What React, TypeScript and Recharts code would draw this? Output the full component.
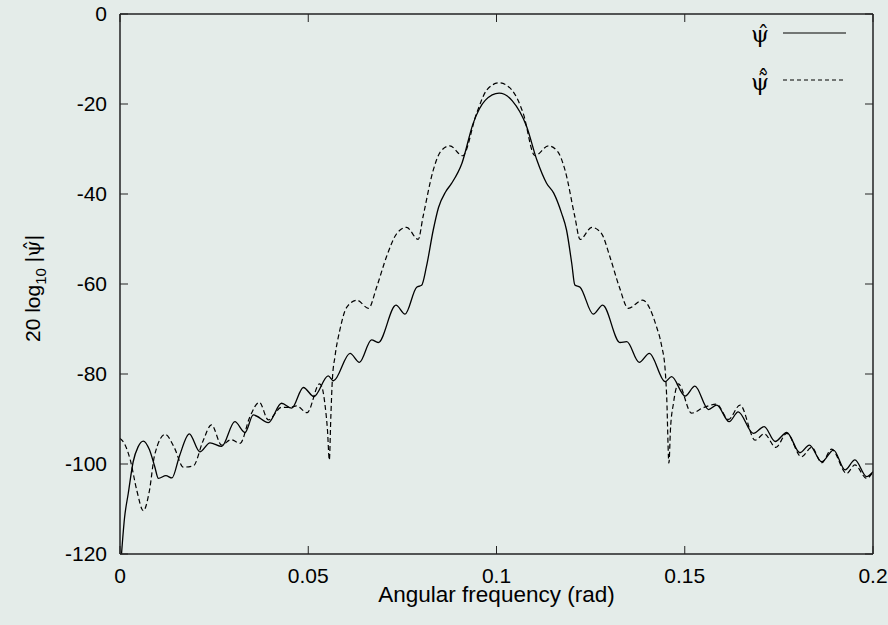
import { LineChart, Line, XAxis, YAxis, Legend, Label, ReferenceLine, CartesianGrid } from "recharts";

// angular frequency (rad) / magnitude (dB)
const freqSolid = [
  0.0004, 0.0012, 0.0022, 0.0035, 0.0048, 0.0062, 0.0078, 0.0092, 0.0102, 0.0122,
  0.0138, 0.0158, 0.0184, 0.0212, 0.0239, 0.027, 0.0305, 0.0332, 0.0354, 0.0394,
  0.0429, 0.0456, 0.0487, 0.0515, 0.0553, 0.0567, 0.0611, 0.0636, 0.0668, 0.0686,
  0.0733, 0.0757, 0.0788, 0.0801, 0.0814, 0.0832, 0.0846, 0.0865, 0.0881, 0.0908,
  0.0938, 0.097, 0.1007, 0.1042, 0.108, 0.1107, 0.1133, 0.1152, 0.1173, 0.1186,
  0.12, 0.1208, 0.1222, 0.1257, 0.1282, 0.1328, 0.1346, 0.1379, 0.1406, 0.1448,
  0.1465, 0.1501, 0.1527, 0.1563, 0.1585, 0.1618, 0.1642, 0.1682, 0.1711, 0.174,
  0.1771, 0.1806, 0.1831, 0.1864, 0.1895, 0.1926, 0.1952, 0.1983, 0.2,
];
const magSolid = [
  -120, -112, -106.5, -99.5, -96.2, -94.9, -96.8, -100.5, -103.2, -102.6,
  -103.1, -98.2, -93.3, -97.3, -95.3, -96.1, -90.6, -93, -89.1, -90.8,
  -86.5, -87.6, -83, -85, -80.4, -81.5, -75.4, -77.4, -72.4, -73,
  -64.7, -66.7, -60.7, -60.3, -56.1, -48, -43, -39.5, -37.6, -33.2,
  -24.3, -19.2, -17.6, -19.3, -25, -32.4, -37.6, -39.8, -44.3, -48,
  -55.5, -60.2, -60.7, -66.7, -64.7, -73, -72.8, -77.4, -75.4, -81.7,
  -80.6, -84.9, -82.7, -87.9, -86.9, -90.6, -88.4, -93.2, -91.7, -95,
  -93, -97.5, -95.8, -99.5, -96.9, -101.3, -99.1, -102.8, -101.7,
];

const freqDashed = [
  0, 0.0012, 0.0027, 0.0045, 0.0062, 0.0078, 0.0092, 0.012, 0.0145, 0.0168,
  0.0195, 0.022, 0.0243, 0.027, 0.0295, 0.0319, 0.0345, 0.037, 0.0394, 0.0429,
  0.0452, 0.0469, 0.0497, 0.053, 0.0536, 0.0544, 0.0551, 0.0556, 0.056, 0.0564,
  0.0571, 0.0584, 0.0602, 0.0629, 0.066, 0.0682, 0.0708, 0.0735, 0.0761, 0.0792,
  0.0805, 0.0832, 0.0852, 0.0876, 0.091, 0.0947, 0.0975, 0.1007, 0.104, 0.1071,
  0.1102, 0.1138, 0.1162, 0.1182, 0.1208, 0.1222, 0.1253, 0.1279, 0.1301, 0.1326,
  0.135, 0.1388, 0.1425, 0.1438, 0.1448, 0.1452, 0.1458, 0.1462, 0.147, 0.1483,
  0.1518, 0.1549, 0.1585, 0.1616, 0.1647, 0.1687, 0.1711, 0.1742, 0.1771, 0.181,
  0.1837, 0.1864, 0.189, 0.193, 0.1952, 0.1983, 0.2,
];
const magDashed = [
  -94.3, -95.5, -99, -106, -110.4, -106, -98, -93.4, -96.5, -100.7,
  -100.4, -95, -91.3, -95.8, -94.6, -95.4, -89.5, -86.3, -90.2, -87.4,
  -87.4, -87.1, -88.6, -82.2, -82.8, -86.5, -92.4, -99.1, -89.5, -81.3,
  -76.1, -70.2, -65.2, -63.6, -65.4, -60.6, -53.9, -48.8, -47.4, -50.1,
  -45, -34.7, -30.5, -29.3, -31.5, -22.1, -16.8, -15.3, -16.8, -22.1,
  -31.5, -29.3, -30.5, -34.7, -45, -50.1, -47.4, -48.8, -53.9, -60.6,
  -65.4, -63.6, -69.5, -73.5, -79.1, -85, -99.8, -92.4, -86.5, -82.2,
  -88.7, -87.5, -86.7, -90.1, -86.9, -94.7, -93.3, -96.3, -93.2, -98.4,
  -96.3, -99.7, -96.7, -102.1, -100.2, -103.2, -101.7,
];

const xTicks = [0, 0.05, 0.1, 0.15, 0.2];
const yTicks = [-120, -100, -80, -60, -40, -20, 0];

const solidData = freqSolid.map((x, i) => ({ x, y: magSolid[i] }));
const dashedData = freqDashed.map((x, i) => ({ x, y: magDashed[i] }));

const FONT = "'Liberation Sans', Arial, sans-serif";
const GREEK = "'DejaVu Serif', 'Liberation Serif', serif";
const tickStyle = { fontSize: 21, fill: "#000", fontFamily: FONT };
const frame = { stroke: "#222", strokeWidth: 1.5 };
const hidden = () => <g />;
// mirrored tick length along the top border, in dB (8px at 4.5px/dB)
const topTickLen = 8 / 4.5;

function PsiLegend() {
  return (
    <svg width={188} height={100} style={{ overflow: "visible" }}>
      <text x={60} y={42} textAnchor="middle" fontSize={23} fontFamily={GREEK} fill="#000">
        {"\u03C8\u0302"}
      </text>
      <line x1={83} x2={146} y1={33} y2={33} stroke="#000" strokeWidth={1.2} />
      <text x={60} y={90} textAnchor="middle" fontSize={23} fontFamily={GREEK} fill="#000">
        {"\u03C8\u0303\u0302"}
      </text>
      <line x1={83} x2={146} y1={80} y2={80} stroke="#000" strokeWidth={1.2} strokeDasharray="4 3" />
    </svg>
  );
}

export default function App() {
  return (
    <div style={{ position: "absolute", left: 0, top: 0, width: 888, height: 625, background: "#e4ece9" }}>
      <LineChart width={888} height={625} margin={{ top: 14, right: 14, left: 0, bottom: 0 }}>
        {/* top border of the plot box */}
        <CartesianGrid
          vertical={false}
          horizontalCoordinatesGenerator={(props: any) => [props.offset.top]}
          stroke="#222"
          strokeWidth={1.5}
          strokeDasharray=""
          fill="none"
        />
        <XAxis
          dataKey="x"
          type="number"
          domain={[0, 0.2]}
          allowDataOverflow
          ticks={xTicks}
          interval={0}
          tickFormatter={(v) => String(v)}
          height={71}
          tickSize={-8}
          tickMargin={22}
          tick={tickStyle}
          axisLine={frame}
          tickLine={{ stroke: "#222" }}
        >
          <Label
            content={({ viewBox }: any) => (
              <text
                x={viewBox.x + viewBox.width / 2}
                y={viewBox.y + 48}
                textAnchor="middle"
                fontSize={22.5}
                fontFamily={FONT}
                fill="#000"
              >
                Angular frequency (rad)
              </text>
            )}
          />
        </XAxis>
        <YAxis
          type="number"
          domain={[-120, 0]}
          allowDataOverflow
          ticks={yTicks}
          interval={0}
          width={120}
          tickSize={-8}
          tickMargin={21}
          tick={tickStyle}
          axisLine={frame}
          tickLine={{ stroke: "#222" }}
        >
          <Label
            content={() => {
              const cx = 40;
              const cy = 342;
              return (
                <text
                  x={cx}
                  y={cy}
                  transform={`rotate(-90 ${cx} ${cy})`}
                  textAnchor="start"
                  fontSize={21}
                  fontFamily={FONT}
                  fill="#000"
                >
                  20 log
                  <tspan fontSize={15} dy={6}>10</tspan>
                  <tspan dy={-6}> |</tspan>
                  <tspan fontFamily={GREEK}>{"\u03C8\u0302"}</tspan>
                  <tspan>|</tspan>
                </text>
              );
            }}
          />
        </YAxis>
        <YAxis
          yAxisId="right"
          orientation="right"
          type="number"
          domain={[-120, 0]}
          allowDataOverflow
          ticks={yTicks}
          interval={0}
          width={1}
          tickSize={-8}
          tick={hidden}
          axisLine={frame}
          tickLine={{ stroke: "#222" }}
        />
        {/* inward mirrored ticks along the top border */}
        {xTicks.map((t) => (
          <ReferenceLine
            key={t}
            segment={[
              { x: t, y: -0.01 },
              { x: t, y: -topTickLen },
            ]}
            stroke="#222"
            ifOverflow="visible"
          />
        ))}
        <Legend
          layout="vertical"
          align="center"
          verticalAlign="middle"
          content={() => <PsiLegend />}
          wrapperStyle={{ top: 0, left: 700, width: 188, height: 100 }}
        />
        <Line
          data={solidData}
          dataKey="y"
          type="monotone"
          stroke="#000"
          strokeWidth={1.3}
          dot={false}
          isAnimationActive={false}
        />
        <Line
          data={dashedData}
          dataKey="y"
          type="monotone"
          stroke="#000"
          strokeWidth={1.2}
          strokeDasharray="5 3"
          dot={false}
          isAnimationActive={false}
        />
      </LineChart>
    </div>
  );
}
